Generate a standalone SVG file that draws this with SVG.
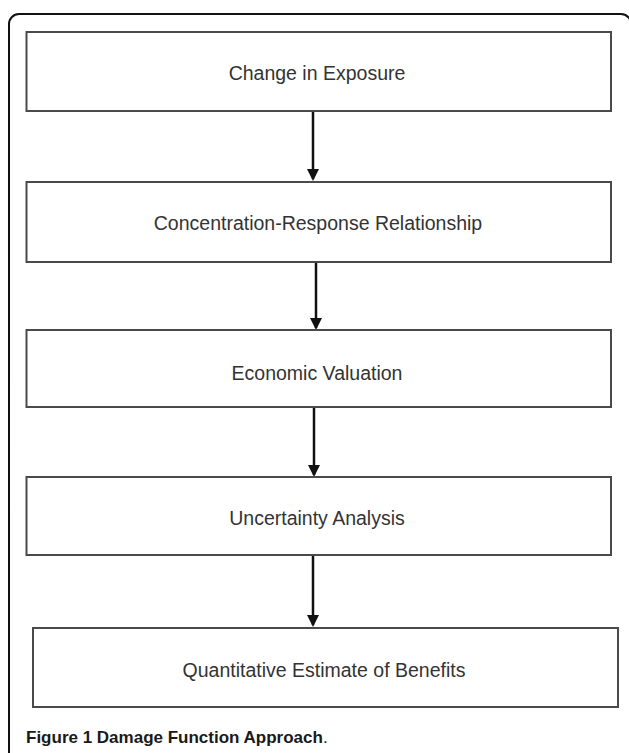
<svg xmlns="http://www.w3.org/2000/svg" width="629" height="753" viewBox="0 0 629 753">
<defs>
<style>
.box{fill:#fff;stroke:#4a4a4a;stroke-width:2}
.lbl{font-family:"Liberation Sans",Arial,sans-serif;font-size:19.5px;fill:#333;text-anchor:middle}
.conn{stroke:#111;stroke-width:2.5;fill:none}
.cap{font-family:"Liberation Sans",Arial,sans-serif;font-size:17px;font-weight:bold;fill:#1a1a1a}
</style>
<marker id="ah" markerWidth="5" markerHeight="5" refX="4.2" refY="2.5" orient="auto" markerUnits="strokeWidth">
<path d="M0,0 L5,2.5 L0,5 Z" fill="#111"/>
</marker>
</defs>
<rect width="629" height="753" fill="#fff"/>
<rect x="9" y="14" width="622" height="760" rx="10" fill="none" stroke="#111" stroke-width="2"/>
<g id="connectors">
<line class="conn" x1="313" y1="111" x2="313" y2="179" marker-end="url(#ah)"/>
<line class="conn" x1="316" y1="262" x2="316" y2="328" marker-end="url(#ah)"/>
<line class="conn" x1="314" y1="407" x2="314" y2="475" marker-end="url(#ah)"/>
<line class="conn" x1="313" y1="555" x2="313" y2="625" marker-end="url(#ah)"/>
</g>
<g id="n1"><rect class="box" x="26.5" y="32" width="584.5" height="79"/><text class="lbl" x="317" y="80">Change in Exposure</text></g>
<g id="n2"><rect class="box" x="26.5" y="182" width="584.5" height="80"/><text class="lbl" x="318" y="230">Concentration-Response Relationship</text></g>
<g id="n3"><rect class="box" x="26.5" y="330" width="584.5" height="77"/><text class="lbl" x="317" y="380">Economic Valuation</text></g>
<g id="n4"><rect class="box" x="26.5" y="477" width="584.5" height="78"/><text class="lbl" x="317" y="525">Uncertainty Analysis</text></g>
<g id="n5"><rect class="box" x="33" y="628" width="585" height="79"/><text class="lbl" x="324" y="677">Quantitative Estimate of Benefits</text></g>
<text id="caption" class="cap" x="26" y="743">Figure 1 Damage Function Approach<tspan font-weight="normal">.</tspan></text>
</svg>
